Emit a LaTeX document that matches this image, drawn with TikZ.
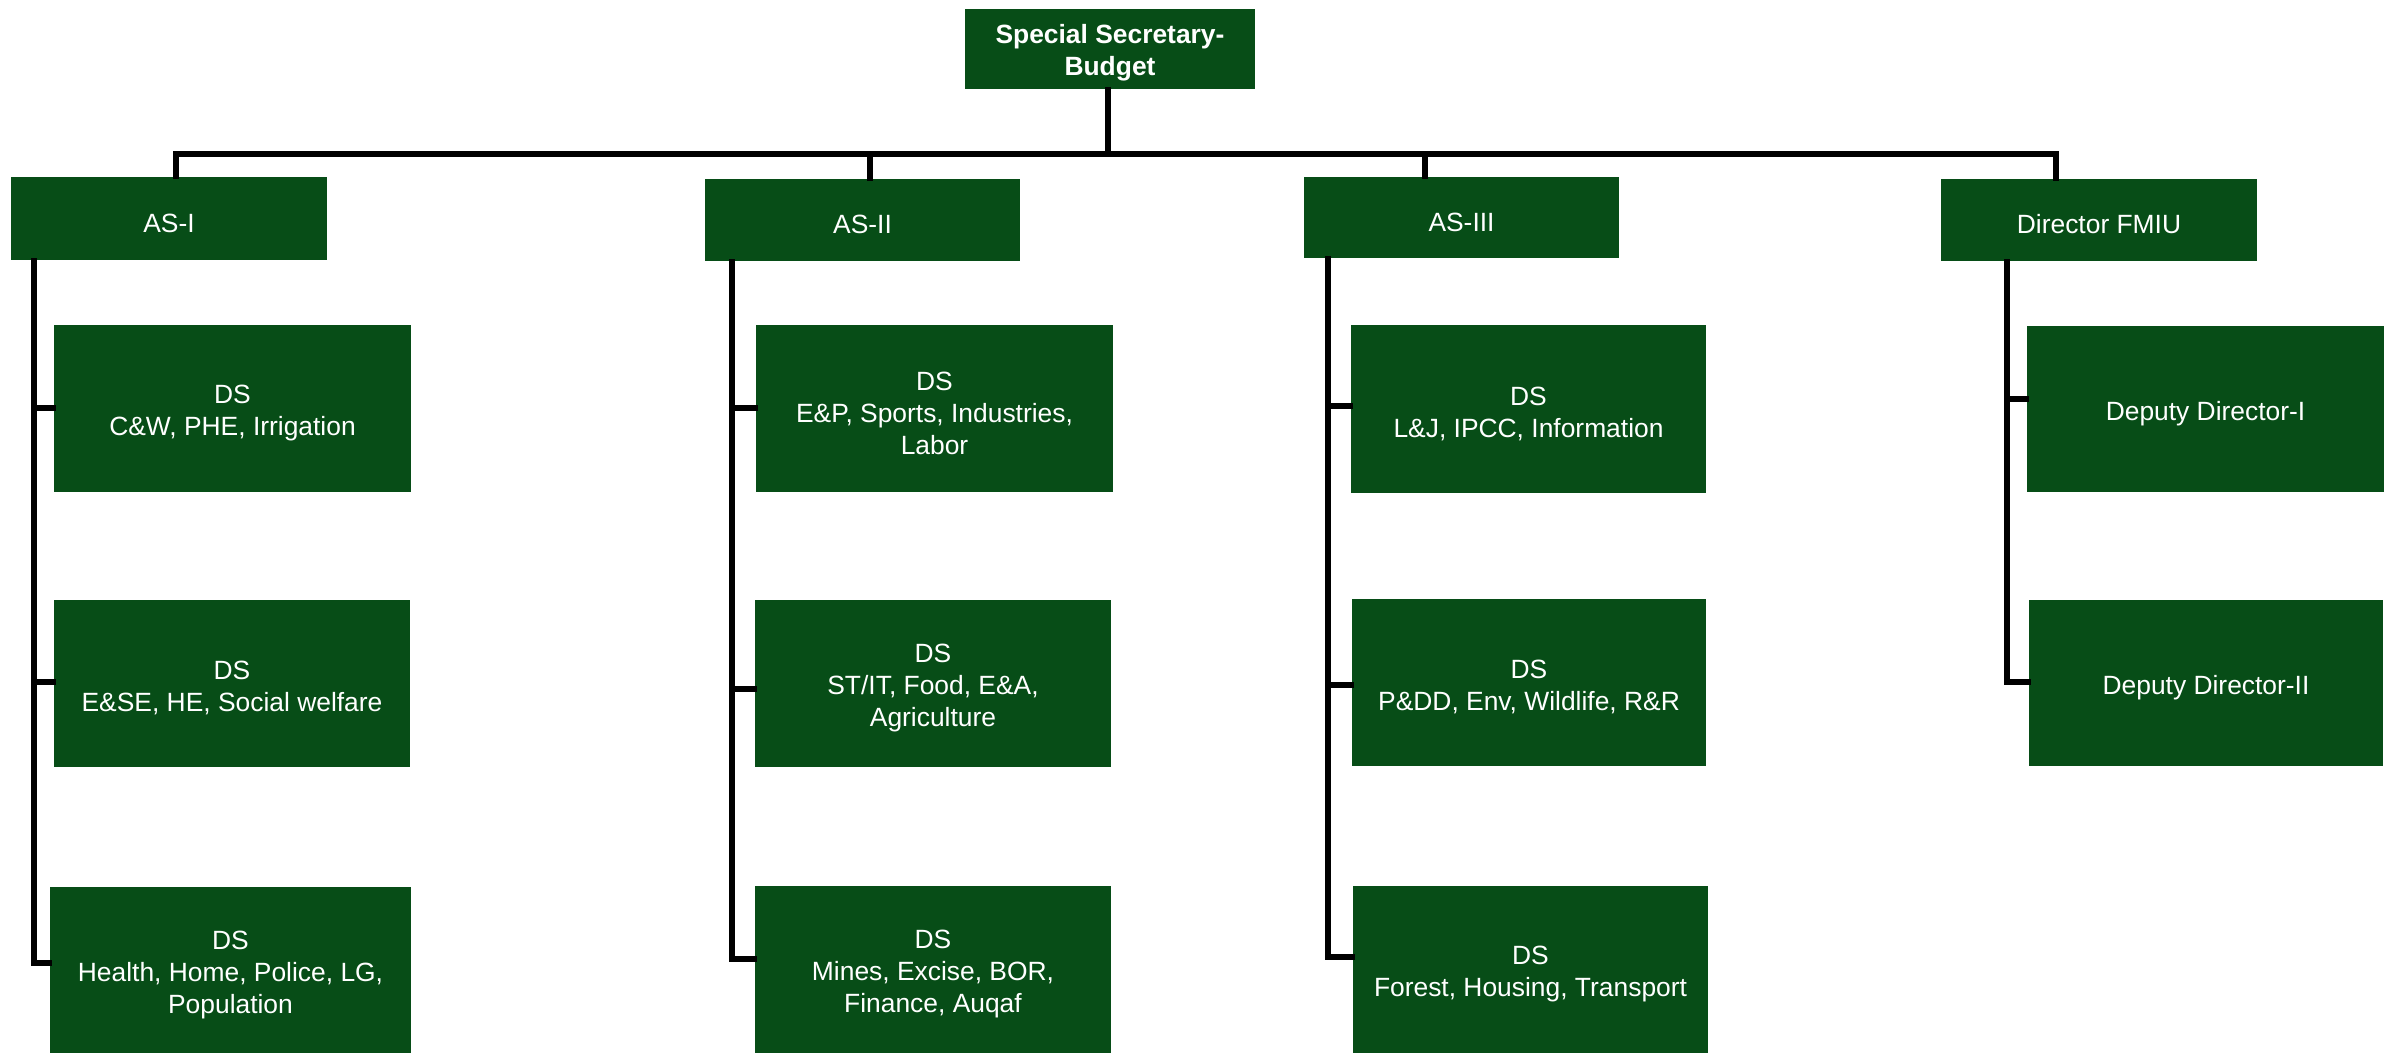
\documentclass[tikz,border=0pt]{standalone}
\usepackage{fontspec}
\setmainfont{Liberation Sans}
\definecolor{boxgreen}{RGB}{7,77,23}
\newcommand\tup{\rule{0pt}{13.8pt}}
\begin{document}
\begin{tikzpicture}[x=0.5pt,y=-0.5pt,
  box/.style={draw=none,fill=boxgreen,text=white,align=center,inner sep=0pt,
    font=\fontsize{13.2}{16}\selectfont},
  conn/.style={draw=black,line width=2.7pt,line join=miter,line cap=rect}]
\useasboundingbox[fill=white] (0,0) rectangle (2397,1053);
% top
\node[box,font=\fontsize{13.2}{16}\selectfont\bfseries,minimum width=145pt,minimum height=40pt] (top) at (1110,49) {\tup Special Secretary-\\Budget};
% level 2
\node[box,minimum width=158pt,minimum height=41.5pt] (asI) at (169,218.5) {\tup AS-I};
\node[box,minimum width=157.5pt,minimum height=41pt] (asII) at (862.5,220) {\tup AS-II};
\node[box,minimum width=157.5pt,minimum height=40.5pt] (asIII) at (1461.5,217.5) {\tup AS-III};
\node[box,minimum width=158pt,minimum height=41pt] (fmiu) at (2099,220) {\tup Director FMIU};
% AS-I children
\node[box,minimum width=178.5pt,minimum height=83.5pt] (ds11) at (232.5,408.5) {\tup DS\\C\&W, PHE, Irrigation};
\node[box,minimum width=178pt,minimum height=83.5pt] (ds12) at (232,683.5) {\tup DS\\E\&SE, HE, Social welfare};
\node[box,minimum width=180.5pt,minimum height=83pt] (ds13) at (230.5,970) {\tup DS\\Health, Home, Police, LG,\\Population};
% AS-II children
\node[box,minimum width=178.5pt,minimum height=83.5pt] (ds21) at (934.5,408.5) {\tup DS\\E\&P, Sports, Industries,\\Labor};
\node[box,minimum width=178pt,minimum height=83.5pt] (ds22) at (933,683.5) {\tup DS\\ST/IT, Food, E\&A,\\Agriculture};
\node[box,minimum width=178pt,minimum height=83.5pt] (ds23) at (933,969.5) {\tup DS\\Mines, Excise, BOR,\\Finance, Auqaf};
% AS-III children
\node[box,minimum width=177.5pt,minimum height=84pt] (ds31) at (1528.5,409) {\tup DS\\L\&J, IPCC, Information};
\node[box,minimum width=177pt,minimum height=83.5pt] (ds32) at (1529,682.5) {\tup DS\\P\&DD, Env, Wildlife, R\&R};
\node[box,minimum width=177.5pt,minimum height=83.5pt] (ds33) at (1530.5,969.5) {\tup DS\\Forest, Housing, Transport};
% FMIU children
\node[box,minimum width=178.5pt,minimum height=83pt] (dd1) at (2205.5,409) {\tup Deputy Director-I};
\node[box,minimum width=177pt,minimum height=83pt] (dd2) at (2206,683) {\tup Deputy Director-II};
% bar coordinates
\coordinate (bt) at (1108,154);
\coordinate (b1) at (176,154);
\coordinate (b2) at (870,154);
\coordinate (b3) at (1425,154);
\coordinate (b4) at (2056,154);
\draw[conn] (top.south -| bt) -- (bt);
\draw[conn] (asI.north -| b1) -- (b1) -- (b4) -- (fmiu.north -| b4);
\draw[conn] (asII.north -| b2) -- (b2);
\draw[conn] (asIII.north -| b3) -- (b3);
% AS-I branch
\coordinate (s11) at (34,408);
\coordinate (s12) at (34,682);
\coordinate (s13) at (34,963);
\draw[conn] (asI.south -| s13) -- (s13) -- (s13 -| ds13.west);
\draw[conn] (s11) -- (s11 -| ds11.west);
\draw[conn] (s12) -- (s12 -| ds12.west);
% AS-II branch
\coordinate (s21) at (732,408);
\coordinate (s22) at (732,689);
\coordinate (s23) at (732,959);
\draw[conn] (asII.south -| s23) -- (s23) -- (s23 -| ds23.west);
\draw[conn] (s21) -- (s21 -| ds21.west);
\draw[conn] (s22) -- (s22 -| ds22.west);
% AS-III branch
\coordinate (s31) at (1328,406);
\coordinate (s32) at (1328,685);
\coordinate (s33) at (1328,957);
\draw[conn] (asIII.south -| s33) -- (s33) -- (s33 -| ds33.west);
\draw[conn] (s31) -- (s31 -| ds31.west);
\draw[conn] (s32) -- (s32 -| ds32.west);
% FMIU branch
\coordinate (s41) at (2007,399);
\coordinate (s42) at (2007,682);
\draw[conn] (fmiu.south -| s42) -- (s42) -- (s42 -| dd2.west);
\draw[conn] (s41) -- (s41 -| dd1.west);
\end{tikzpicture}
\end{document}
